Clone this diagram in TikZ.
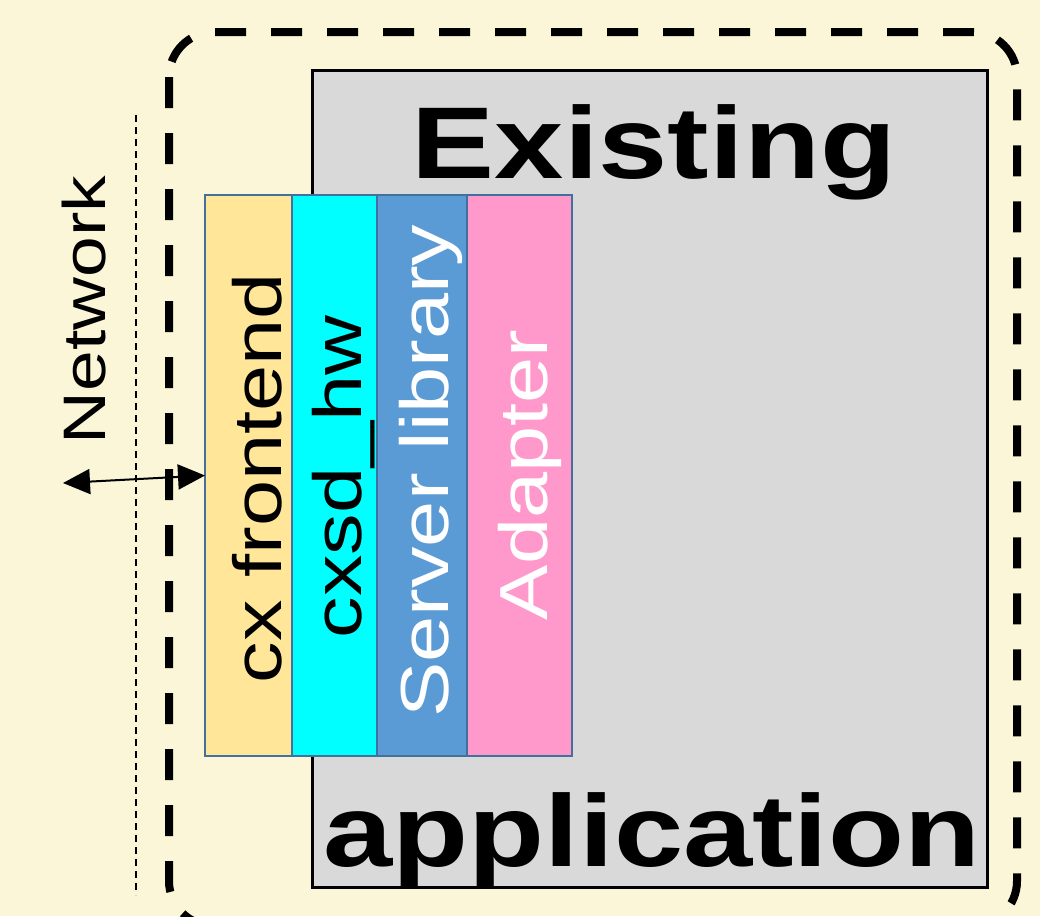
\documentclass[tikz,border=0pt]{standalone}
\usepackage{fontspec}
\setmainfont{Liberation Sans}
\usetikzlibrary{arrows.meta,positioning}
\definecolor{paper}{HTML}{FBF6D7}
\definecolor{appgray}{HTML}{D9D9D9}
\definecolor{colline}{HTML}{41719C}
\definecolor{feyellow}{HTML}{FFE699}
\definecolor{hwcyan}{HTML}{00FFFF}
\definecolor{srvblue}{HTML}{5B9BD5}
\definecolor{adpink}{HTML}{FF99CC}
\newcommand{\wide}[1]{\scalebox{1.22}[1]{#1}}
\tikzset{
col/.style={draw=colline, line width=2pt, inner sep=0pt, outer sep=0pt, minimum height=561pt}, % one column of the stack
coltext/.style={rotate=90, anchor=base, font=\fontsize{68}{70}\selectfont}, % text written up a column
bigtext/.style={anchor=base, font=\bfseries\fontsize{102}{104}\selectfont}, % the two big words
boundary/.style={dash pattern=on 31pt off 25pt, line width=8pt, rounded corners=45pt}, % the dashed outline
wire/.style={dash pattern=on 7pt off 5pt, line width=2pt}, % the network line
}
\begin{document}
\begin{tikzpicture}[x=1pt, y=-1pt, node distance=0pt]
		\useasboundingbox (0,0) rectangle (1040,916);
		\fill[paper] (0,0) rectangle (1040,916);
		\clip (0,0) rectangle (1040,916);
		% network line
		\coordinate (wtop) at (136,115);
		\coordinate (wbot) at (136,895);
		\draw[wire] (wtop) -- (wbot);
		\node[coltext, font=\fontsize{60}{62}\selectfont] (net) at (105,310) {\wide{Network}};
		% outline of the whole thing
		\draw[boundary] (169,32) rectangle (1017,926);
		% existing application
		\node[draw, line width=2.5pt, fill=appgray, minimum width=675pt, minimum height=817pt, anchor=north west] (app) at (311,69) {};
		\node[bigtext] (ex) at (654,178) {\wide{Existing}};
		\node[bigtext] (apl) at (652,866) {\wide{application}};
		% the stack
		\node[col, fill=feyellow, minimum width=87pt, anchor=north west] (fe) at (205,195) {};
		\node[col, fill=hwcyan, minimum width=85pt, right=of fe] (hw) {};
		\node[col, fill=srvblue, minimum width=90pt, right=of hw] (srv) {};
		\node[col, fill=adpink, minimum width=105pt, right=of srv] (ad) {};
		\node[coltext] (fetxt) at (281,478) {\wide{cx frontend}};
		\node[coltext] (hwtxt) at (361,477) {\wide{cxsd\_hw}};
		\node[coltext, text=white] (srvtxt) at (448,471) {\wide{Server library}};
		\node[coltext, text=white] (adtxt) at (547,475) {\wide{Adapter}};
		% link to the network
		\coordinate (nl) at (63,483);
		\draw[{Triangle[length=27pt,width=25pt]}-{Triangle[length=27pt,width=25pt]}, line width=2pt] (nl) -- (fe.west);
	\end{tikzpicture}
\end{document}
